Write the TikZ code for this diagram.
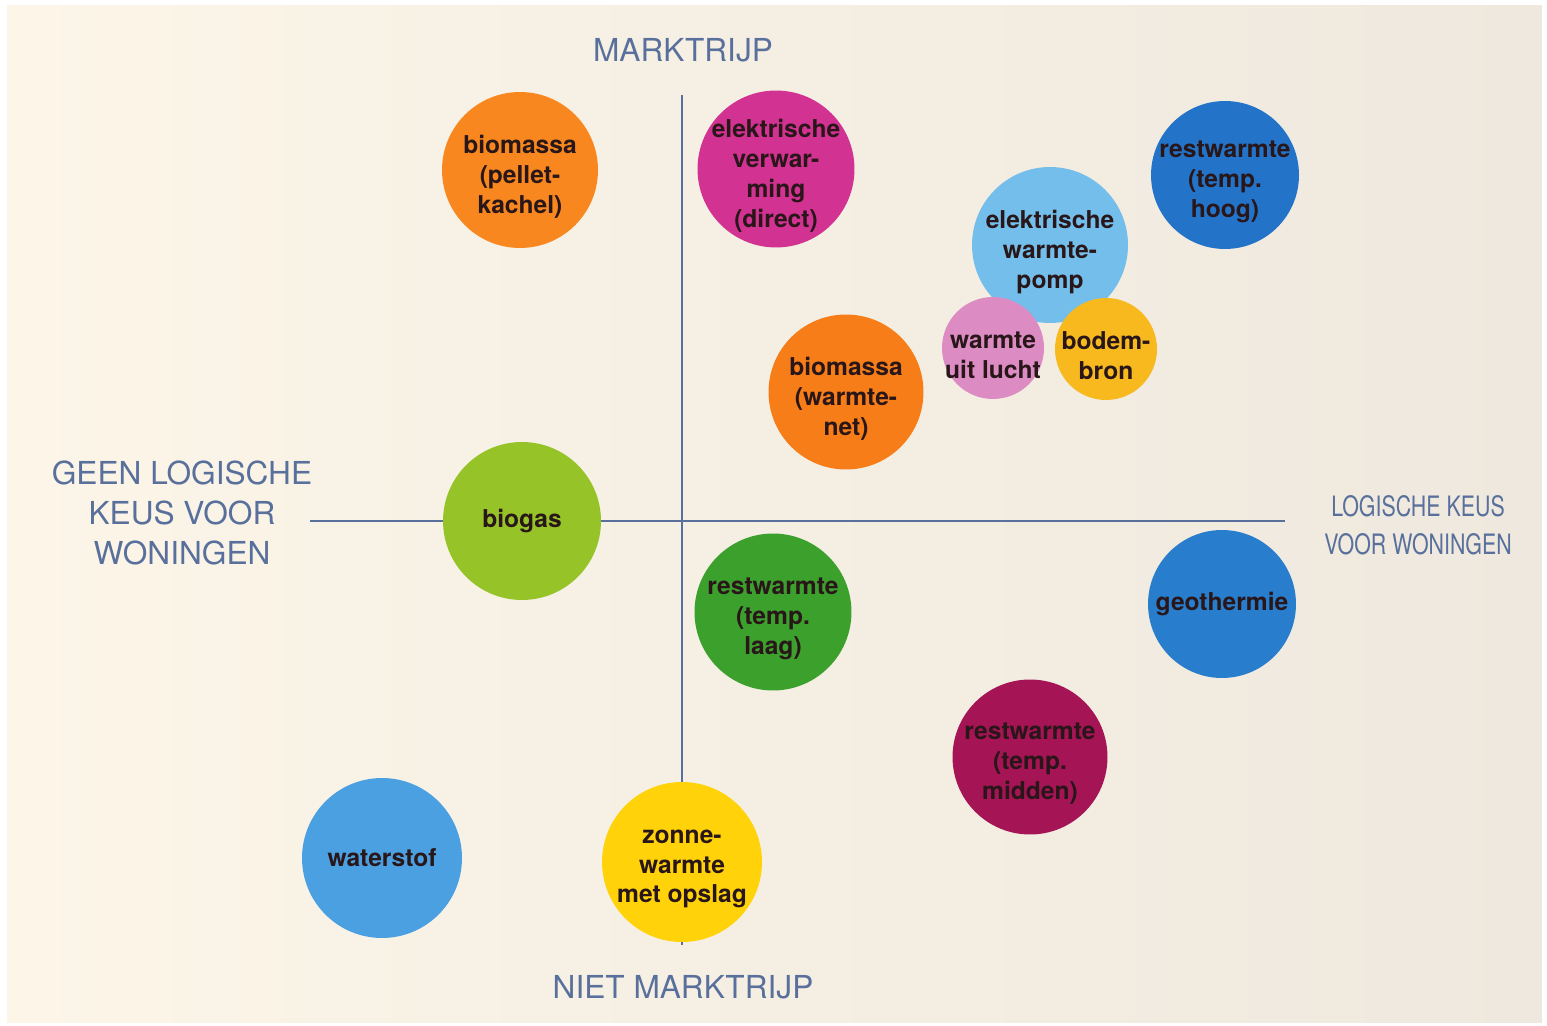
\documentclass[tikz,border=0pt]{standalone}
\usepackage{fontspec}
\setmainfont{TeX Gyre Heros}
\newfontfamily\narrowfont[FakeStretch=0.76]{TeX Gyre Heros}
\usetikzlibrary{positioning}
\definecolor{paper}{RGB}{252,245,232}
\definecolor{paperdark}{RGB}{238,232,222}
\definecolor{slate}{RGB}{88,112,155}
\definecolor{ink}{RGB}{40,22,25}
\definecolor{orangeA}{RGB}{247,135,30}
\definecolor{orangeB}{RGB}{247,125,25}
\definecolor{magentaA}{RGB}{210,50,145}
\definecolor{blueA}{RGB}{35,115,200}
\definecolor{blueB}{RGB}{40,125,205}
\definecolor{skyblue}{RGB}{115,190,235}
\definecolor{pinkA}{RGB}{220,140,195}
\definecolor{amber}{RGB}{247,185,30}
\definecolor{lime}{RGB}{150,195,40}
\definecolor{greenA}{RGB}{60,160,45}
\definecolor{crimson}{RGB}{165,20,85}
\definecolor{blueC}{RGB}{75,160,225}
\definecolor{sun}{RGB}{255,210,10}
\tikzset{
disc/.style={circle, inner sep=0pt, draw=none},
tag/.style={align=center, font=\fontsize{14}{17}\selectfont\bfseries, text=ink, yshift=-4pt},
oneline/.style={align=center, font=\fontsize{14}{17}\selectfont\bfseries, text=ink},
axis/.style={align=center, font=\fontsize{18}{22.7}\selectfont, text=slate},
line/.style={draw=slate, line width=0.9pt}
}

\begin{document}
\begin{tikzpicture}[x=0.02cm, y=-0.02cm]
    % Paper
    \useasboundingbox (0,0) rectangle (1547,1026);
    \fill[white] (0,0) rectangle (1547,1026);
    \shade[left color=paper, right color=paperdark] (7,6) rectangle (1542,1022);
    % Axes
    \coordinate (top) at (682,95);
    \coordinate (bottom) at (682,945);
    \coordinate (left) at (310,521);
    \coordinate (right) at (1285,521);
    \path [line] (top) -- (bottom);
    \path [line] (left) -- (right);
    % Axis labels
    \node [axis] (marktrijp) at (683,50) {MARKTRIJP};
    \node [axis] (nietmarktrijp) at (683,987) {NIET MARKTRIJP};
    \node [axis] (geenkeus) at (182,513) {GEEN LOGISCHE\\KEUS VOOR\\WONINGEN};
    \node [axis, font=\fontsize{16}{21.5}\selectfont\narrowfont] (keus) at (1418,525) {LOGISCHE KEUS\\VOOR WONINGEN};
    % Place discs
    \node [disc, fill=orangeA, minimum size=3.12cm, label={[tag]center:biomassa\\(pellet-\\kachel)}] (pellet) at (520,170) {};
    \node [disc, fill=magentaA, minimum size=3.14cm, label={[tag]center:elektrische\\verwar-\\ming\\(direct)}] (direct) at (776,169) {};
    \node [disc, fill=blueA, minimum size=2.96cm, label={[tag]center:restwarmte\\(temp.\\hoog)}] (hoog) at (1225,175) {};
    \node [disc, fill=skyblue, minimum size=3.12cm, label={[tag]center:elektrische\\warmte-\\pomp}] (pomp) at (1050,245) {};
    \node [disc, fill=pinkA, minimum size=2.04cm, label={[tag]center:warmte\\uit lucht}] (lucht) at (993,348) {};
    \node [disc, fill=amber, minimum size=2.04cm, label={[tag]center:bodem-\\bron}] (bodem) at (1106,349) {};
    \node [disc, fill=orangeB, minimum size=3.1cm, label={[tag]center:biomassa\\(warmte-\\net)}] (warmtenet) at (846,392) {};
    \node [disc, fill=lime, minimum size=3.16cm, label={[oneline]center:biogas}] (biogas) at (522,521) {};
    \node [disc, fill=greenA, minimum size=3.14cm, label={[tag]center:restwarmte\\(temp.\\laag)}] (laag) at (773,612) {};
    \node [disc, fill=blueB, minimum size=2.96cm, label={[oneline]center:geothermie}] (geo) at (1222,604) {};
    \node [disc, fill=crimson, minimum size=3.1cm, label={[tag]center:restwarmte\\(temp.\\midden)}] (midden) at (1030,757) {};
    \node [disc, fill=blueC, minimum size=3.2cm, label={[oneline]center:waterstof}] (waterstof) at (382,858) {};
    \node [disc, fill=sun, minimum size=3.2cm, label={[tag]center:zonne-\\warmte\\met opslag}] (zon) at (682,862) {};
\end{tikzpicture}
\end{document}
